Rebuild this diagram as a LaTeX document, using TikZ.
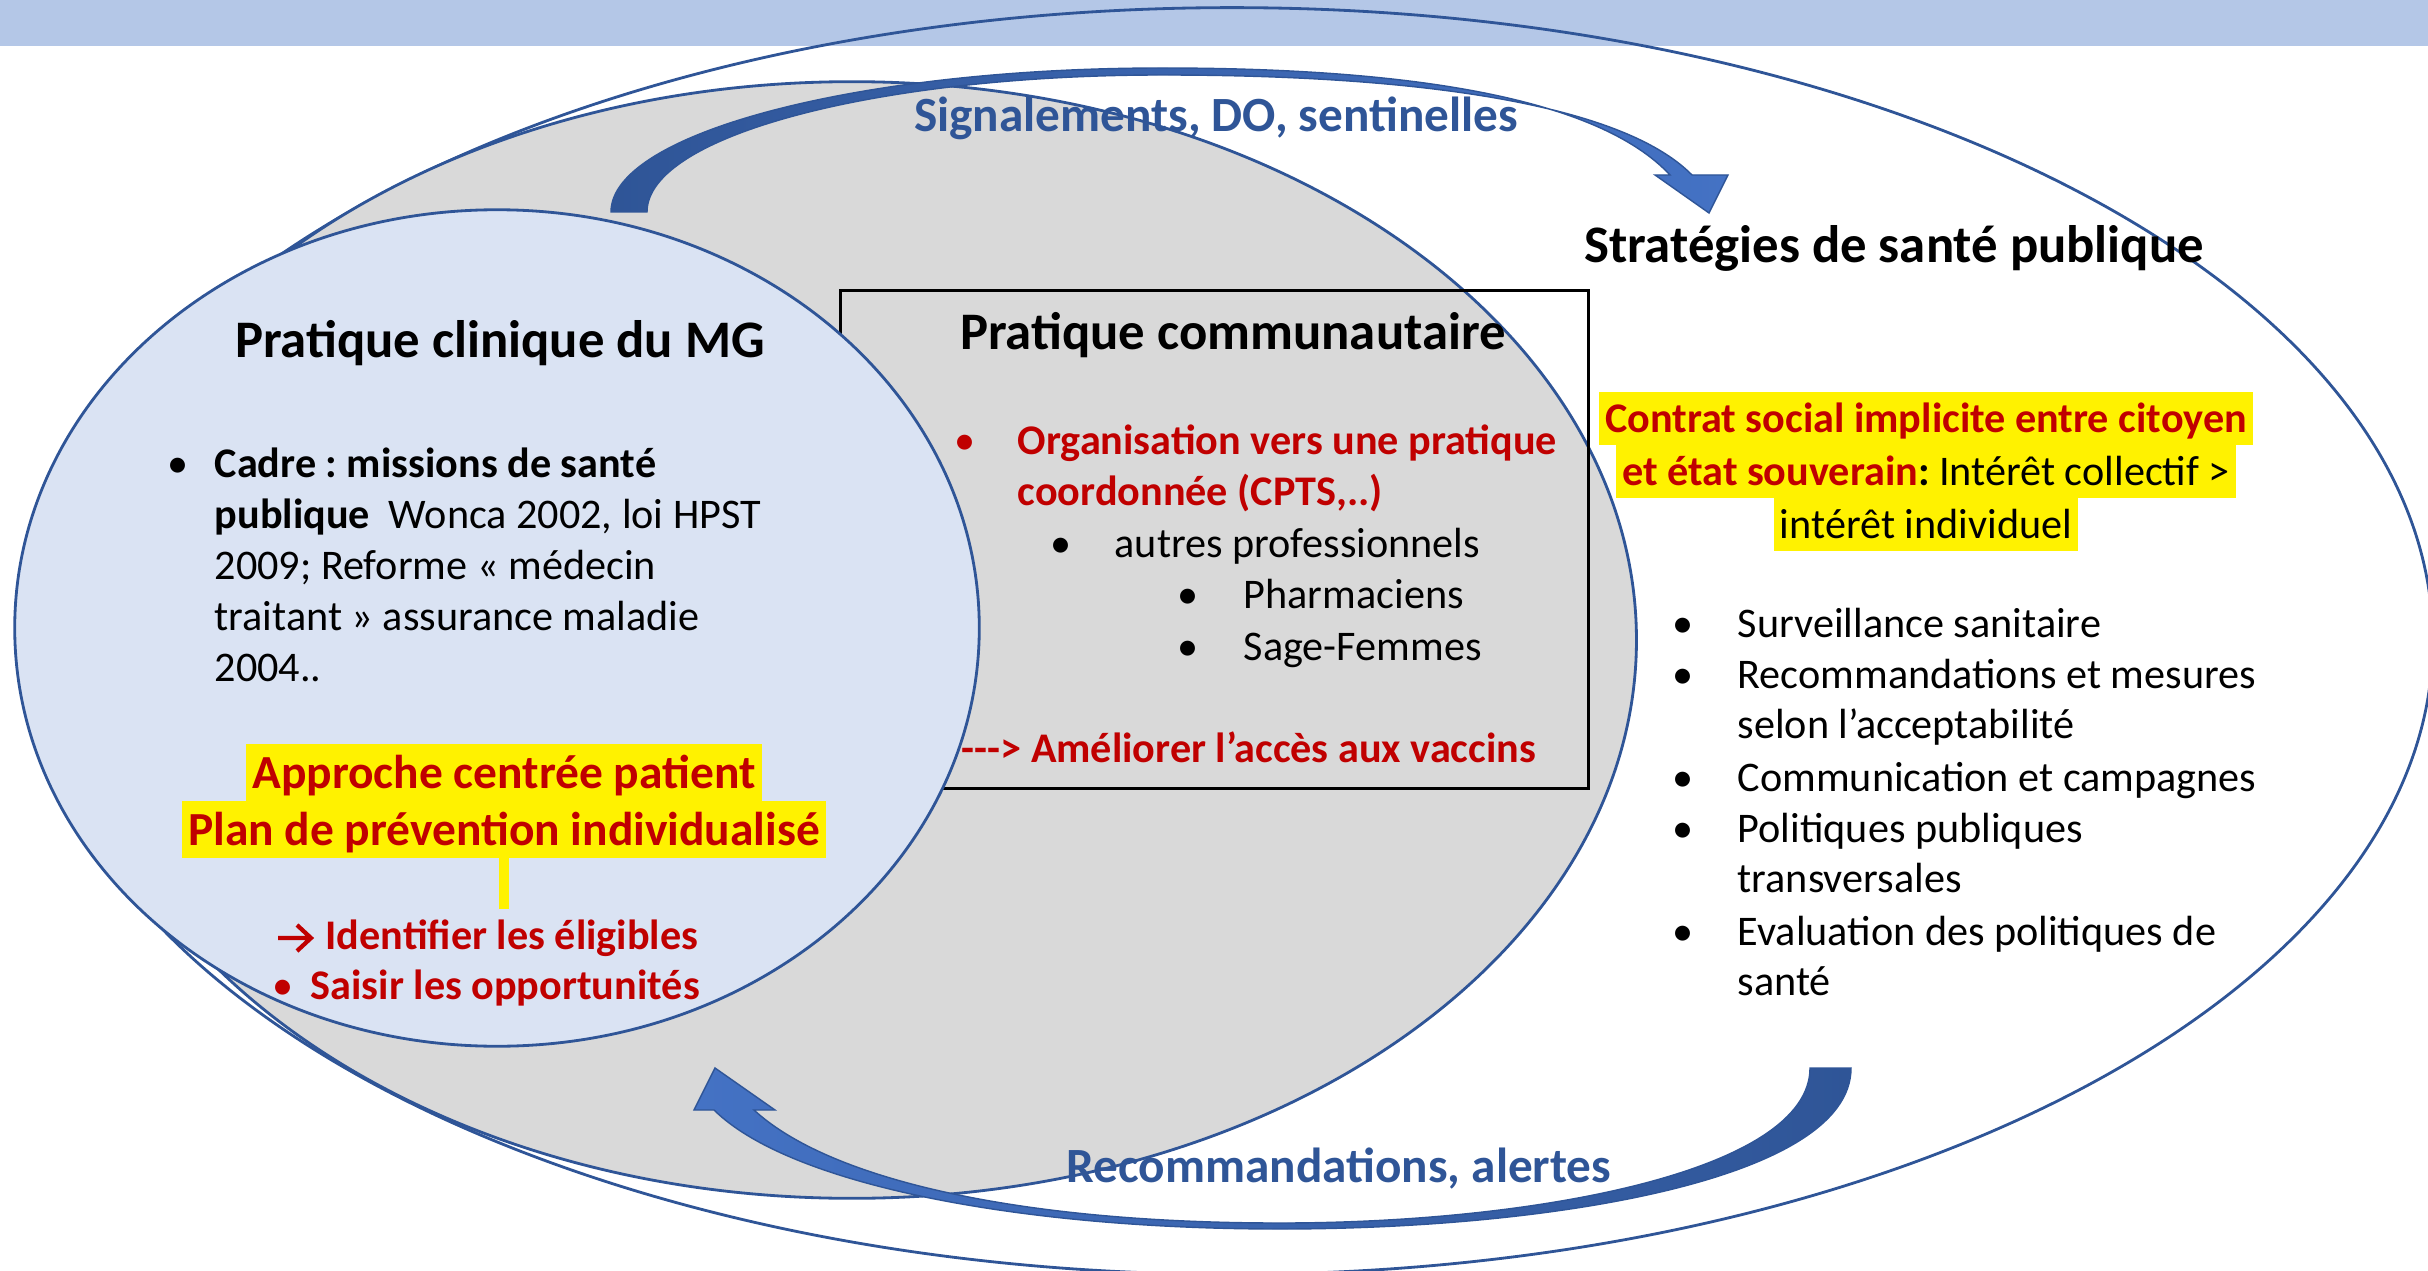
\documentclass[tikz,border=0pt]{standalone}
\usepackage{fontspec}
\setmainfont{Carlito}
\usepackage{xcolor}
\usepackage{tikz}
\usetikzlibrary{shapes.geometric,positioning}
\frenchspacing

\definecolor{bandblue}{HTML}{B4C7E7}
\definecolor{edgeblue}{HTML}{2F5597}
\definecolor{lightfill}{HTML}{DAE3F3}
\definecolor{grayfill}{HTML}{D9D9D9}
\definecolor{darkred}{HTML}{C00000}
\definecolor{arrlight}{HTML}{4472C4}
\definecolor{arrdark}{HTML}{2F5597}

\begin{document}
\begin{tikzpicture}[
    x=0.01cm, y=-0.01cm,
    zone/.style={ellipse, draw=edgeblue, line width=0.8pt, inner sep=0pt},
    title/.style={font=\fontsize{15}{18}\selectfont\bfseries, inner sep=0pt, anchor=base},
    flow/.style={font=\fontsize{14}{17}\selectfont\bfseries, text=edgeblue, inner sep=0pt, anchor=base},
    body/.style={font=\fontsize{12}{14.5}\selectfont, inner sep=0pt, anchor=base west},
    redtxt/.style={body, font=\fontsize{12}{14.5}\selectfont\bfseries, text=darkred},
    dot/.style={body, anchor=base},
    hl/.style={fill=yellow, inner xsep=0.06cm, inner ysep=0.015cm, outer sep=0pt, text height=0.39cm, text depth=0.11cm, font=\fontsize{12}{14.5}\selectfont},
    hlbig/.style={hl, inner ysep=0.01cm, text height=0.43cm, text depth=0.12cm, font=\fontsize{13.5}{16}\selectfont\bfseries, text=darkred},
    flowarrow/.style={draw=edgeblue, line width=0.4pt}
]
\useasboundingbox (0,0) rectangle (2428,1270);
\fill[bandblue] (0,0) rectangle (2428,46);

\node[zone, minimum width=24cm, minimum height=12.66cm] (sante) at (1232,641) {};
\node[zone, fill=grayfill, minimum width=15.68cm, minimum height=11.16cm] (commu) at (852,640) {};
\node[draw, line width=0.8pt, inner sep=0pt, minimum width=7.47cm, minimum height=4.97cm] (commbox) at (1214.5,539.5) {};
\node[zone, fill=lightfill, minimum width=9.64cm, minimum height=8.36cm] (clinic) at (497,628) {};

\coordinate (sigA) at (611,212);
\coordinate (sigB) at (647,212);
\coordinate (sigtip) at (1709,213);
\path[flowarrow, left color=arrdark, right color=arrlight]
  (sigA) .. controls (611,133) and (859,68) .. (1162,68)
  .. controls (1420,68) and (1600,100) .. (1670,175)
  -- (1655,175) -- (sigtip) -- (1728,175) -- (1692,175)
  .. controls (1622,104) and (1420,75) .. (1162,75)
  .. controls (880,75) and (647,135) .. (sigB) -- cycle;

\coordinate (recoA) at (1851,1068);
\coordinate (recoB) at (1810,1068);
\coordinate (recotip) at (715,1068);
\path[flowarrow, left color=arrlight, right color=arrdark]
  (recoA) .. controls (1851,1180) and (1550,1229) .. (1280,1229)
  .. controls (1020,1229) and (790,1185) .. (714,1110)
  -- (694,1110) -- (recotip) -- (775,1110) -- (754,1110)
  .. controls (830,1180) and (1020,1223) .. (1280,1223)
  .. controls (1540,1223) and (1810,1170) .. (recoB) -- cycle;

\node[flow] (sig) at (1216,132) {Signalements, DO, sentinelles};
\node[flow] (reco) at (1339,1182) {Recommandations, alertes};

\node[title] (clinT) at (500,358) {Pratique clinique du MG};
\node[dot] (cdot) at (178,477) {•};
\foreach \y/\txt [count=\i] in {477/{\textbf{Cadre : missions de santé}}, 528/{\textbf{publique}\ \ Wonca 2002, loi HPST}, 579/{2009; Reforme « médecin}, 630/{traitant » assurance maladie}, 681/{2004..}}
  \node[body] (c\i) at (214,\y) {\txt};

\node[hlbig, anchor=north] (hlL1) at (504,744) {Approche centrée patient};
\node[hlbig, below=0pt of hlL1] (hlL2) {Plan de prévention individualisé};
\node[fill=yellow, inner sep=0pt, outer sep=0pt, minimum width=0.1cm, minimum height=0.51cm, below=0pt of hlL2] (hlbar) {};
\node[redtxt] (elig) at (325,949) {Identifier les éligibles};
\coordinate (eligarrow) at (278,938);
\draw[darkred, line width=1.2pt, line cap=butt] (eligarrow) -- ++(33,0)
  (eligarrow) ++(19,-13) -- ++(14,13) -- ++(-14,13);
\node[dot, text=darkred] (oppdot) at (283,999) {•};
\node[redtxt] (opp) at (310,999) {Saisir les opportunités};

\node[title] (commT) at (1233,350) {Pratique communautaire};
\node[dot, text=darkred] (k0) at (965,455) {•};
\node[redtxt] (k1) at (1017,455) {Organisation vers une pratique};
\node[redtxt] (k2) at (1017,505) {coordonnée (CPTS,..)};
\node[dot] (k3dot) at (1061,557) {•};
\node[body] (k3) at (1114,557) {autres professionnels};
\node[dot] (k4dot) at (1188,608) {•};
\node[body] (k4) at (1243,608) {Pharmaciens};
\node[dot] (k5dot) at (1188,660) {•};
\node[body] (k5) at (1243,660) {Sage-Femmes};
\node[redtxt] (vacc) at (961,762) {-{}-{}-> Améliorer l’accès aux vaccins};

\node[title] (stratT) at (1894,263) {Stratégies de santé publique};
\node[hl, anchor=north] (hlR1) at (1926,392) {\color{darkred}\bfseries Contrat social implicite entre citoyen};
\node[hl, below=0pt of hlR1] (hlR2) {{\color{darkred}\bfseries et état souverain}\textbf{:} Intérêt collectif >};
\node[hl, below=0pt of hlR2] (hlR3) {intérêt individuel};

\foreach \y/\txt [count=\i] in {637/Surveillance sanitaire, 688/Recommandations et mesures, 738/selon l’acceptabilité, 791/Communication et campagnes, 842/Politiques publiques, 892/transversales, 945/Evaluation des politiques de, 995/santé}
  \node[body] (s\i) at (1737,\y) {\txt};
\foreach \y [count=\i] in {637,688,791,842,945}
  \node[dot] (sdot\i) at (1683,\y) {•};

\end{tikzpicture}
\end{document}
